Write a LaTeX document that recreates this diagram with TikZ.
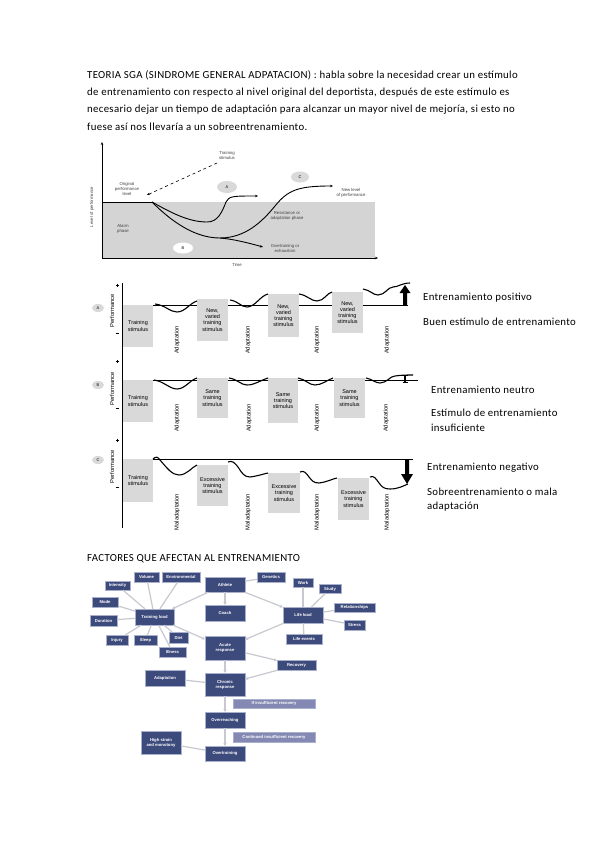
\documentclass[tikz,border=0pt]{standalone}
\usepackage{fontspec}
\setmainfont{Carlito}
\newfontfamily\bodyf[LetterSpace=3]{Carlito}
\newfontfamily\arialf{Liberation Sans}
\usetikzlibrary{arrows.meta,shapes.geometric}
\definecolor{navy}{HTML}{3D4A7C}
\definecolor{navyedge}{HTML}{A8B0CC}
\definecolor{lav}{HTML}{8389B2}
\definecolor{boxgray}{HTML}{D9D9D9}
\definecolor{areagray}{HTML}{D4D4D4}
\definecolor{linkgray}{HTML}{C8C9D0}
\tikzset{
  body/.style={anchor=west, inner sep=0, font=\bodyf\fontsize{10.8}{12}\selectfont},
  tinylab/.style={font=\arialf\fontsize{4.3}{5}\selectfont, align=center, inner sep=0, text=black!75},
  stimbox/.style={fill=boxgray, inner sep=0, font=\arialf\fontsize{5.5}{6.2}\selectfont, align=center},
  wave/.style={line width=1.1pt},
  baseln/.style={line width=0.5pt},
  vlabel/.style={rotate=90, font=\arialf\fontsize{5.8}{6.5}\selectfont, inner sep=0},
  tag/.style={ellipse, fill=boxgray, inner sep=0, minimum width=12pt, minimum height=8pt, font=\arialf\fontsize{4}{4.5}\selectfont},
  fbox/.style={fill=navy, draw=navyedge, line width=0.3pt, text=white, font=\arialf\bfseries\fontsize{4.2}{4.9}\selectfont, align=center, inner sep=0},
  lbox/.style={fbox, fill=lav},
  link/.style={draw=linkgray, line width=1.2pt},
  linka/.style={link, -{Stealth[length=3pt,width=3.5pt]}},
}
\begin{document}
\begin{tikzpicture}[x=1pt,y=-1pt]
\useasboundingbox (0,0) rectangle (600,848);
\fill[white] (0,0) rectangle (600,848);

% ---------- intro text ----------
\node[body] (t1) at (87,75) {TEORIA SGA (SINDROME GENERAL ADPATACION) : habla sobre la necesidad crear un estímulo};
\node[body] (t2) at (87,93) {de entrenamiento con respecto al nivel original del deportista, después de este estímulo es};
\node[body] (t3) at (87,110) {necesario dejar un tiempo de adaptación para alcanzar un mayor nivel de mejoría, si esto no};
\node[body] (t4) at (87,127) {fuese así nos llevaría a un sobreentrenamiento.};

% ---------- GAS chart ----------
\fill[areagray] (102,202) rectangle (375,258);
\draw[line width=0.6pt,-{Stealth[length=3pt,width=2.5pt]}] (102,258) -- (378,258);
\draw[line width=0.6pt,-{Stealth[length=3pt,width=2.5pt]}] (102,258) -- (102,142);
\draw[line width=1pt] (102,202) -- (152,202);
% curve A
\draw[line width=0.9pt,-{Stealth[length=3pt,width=2.5pt]}] (152,202) .. controls (170,212) and (188,222) .. (207,222) .. controls (218,222) and (222,212) .. (226,202) .. controls (229,196) and (233,196) .. (258,196);
% lower curve
\draw[line width=0.9pt] (152,202) .. controls (172,222) and (195,238) .. (220,238);
\draw[line width=0.9pt,-{Stealth[length=3pt,width=2.5pt]}] (220,238) .. controls (245,238) and (262,222) .. (275,206) .. controls (288,190) and (298,186) .. (333,186);
\draw[line width=0.9pt,-{Stealth[length=3pt,width=2.5pt]}] (220,238) .. controls (232,239) and (245,242) .. (263,247);
% training stimulus arrow
\draw[line width=0.6pt,dashed,-{Stealth[length=3pt,width=2.5pt]}] (217,163) -- (147,195);
\node[tinylab] (lts) at (227,155) {Training\\stimulus};
\node[tinylab] (lorig) at (127,189) {Original\\performance\\level};
\node[tinylab,rotate=90] (llev) at (92,207) {Level of performance};
\node[tinylab] (lalarm) at (123,229) {Alarm\\phase};
\node[tinylab] (lnew) at (351,193) {New level\\of performance};
\node[tinylab] (lres) at (287,216) {Resistance or\\adaptation phase};
\node[tinylab] (lover) at (285,248) {Overtraining or\\exhaustion};
\node[tinylab] (ltime) at (237,265) {Time};
\node[ellipse, fill=boxgray, inner sep=0, minimum width=20pt, minimum height=12pt, font=\arialf\fontsize{4}{4.5}\selectfont] (ea) at (227,187) {A};
\node[ellipse, fill=boxgray, inner sep=0, minimum width=18pt, minimum height=11pt, font=\arialf\fontsize{4}{4.5}\selectfont] (ec) at (300,177) {C};
\node[ellipse, fill=white, inner sep=0, minimum width=20pt, minimum height=11pt, font=\arialf\fontsize{4}{4.5}\selectfont] (eb) at (183,248) {B};

% ---------- three panels ----------
\draw[line width=0.5pt] (122,283) -- (122,528);
\foreach \yy in {285,361,440} {\draw[line width=0.4pt] (115.5,\yy) -- (118.5,\yy) (117,\yy-1.5) -- (117,\yy+1.5);}
\foreach \yy in {333,408,487} {\draw[line width=0.4pt] (115.5,\yy) -- (118.5,\yy);}
\node[vlabel] (pa) at (112,311) {Performance};
\node[vlabel] (pb) at (112,389) {Performance};
\node[vlabel] (pc) at (112,467) {Performance};
\node[tag] (ta) at (98,308) {A};
\node[tag] (tb) at (98,385) {B};
\node[tag] (tc) at (98,460) {C};

% panel A
\draw[baseln] (153,305) -- (408,305);
\node[stimbox, minimum width=30pt, minimum height=42pt] (a1) at (138,326) {Training\\stimulus};
\node[stimbox, minimum width=31pt, minimum height=42pt] (a2) at (212.5,320) {New,\\varied\\training\\stimulus};
\node[stimbox, minimum width=31pt, minimum height=43pt] (a3) at (283.5,315.5) {New,\\varied\\training\\stimulus};
\node[stimbox, minimum width=31pt, minimum height=41pt] (a4) at (347.5,312.5) {New,\\varied\\training\\stimulus};
\draw[wave] (155,304) .. controls (165,305) and (170,312) .. (177,312) .. controls (185,312) and (190,303) .. (197,301);
\draw[wave] (230,300) .. controls (238,301) and (241,307) .. (247,307) .. controls (255,307) and (260,296) .. (268,294);
\draw[wave] (299,294) .. controls (307,295) and (311,301) .. (317,301) .. controls (324,301) and (327,293) .. (332,292);
\draw[wave] (363,289) .. controls (370,290) and (373,295) .. (378,295) .. controls (385,295) and (388,287) .. (393,287) .. controls (398,287) and (402,283) .. (410,283);
\fill[black] (403,305) -- (407,305) -- (407,293) -- (410.5,293) -- (405,285) -- (399.5,293) -- (403,293) -- cycle;
\foreach \xx in {177,248,317,387} {\node[vlabel] at (\xx,340) {Adaptation};}

% panel B
\draw[baseln] (153,380) -- (418,380);
\node[stimbox, minimum width=30pt, minimum height=42pt] (b1) at (138,401) {Training\\stimulus};
\node[stimbox, minimum width=31pt, minimum height=40pt] (b2) at (212.5,398) {Same\\training\\stimulus};
\node[stimbox, minimum width=30pt, minimum height=45pt] (b3) at (283,400.5) {Same\\training\\stimulus};
\node[stimbox, minimum width=31pt, minimum height=40pt] (b4) at (349.5,398) {Same\\training\\stimulus};
\draw[wave] (154,380) .. controls (163,381) and (170,389) .. (177,389) .. controls (185,389) and (190,380) .. (197,378);
\draw[wave] (229,378) .. controls (237,379) and (241,385) .. (247,385) .. controls (255,385) and (261,380) .. (268,378);
\draw[wave] (298,378) .. controls (305,379) and (309,385) .. (315,385) .. controls (322,385) and (327,380) .. (333,378);
\draw[wave] (366,378) .. controls (372,379) and (375,383) .. (380,383) .. controls (387,383) and (390,376) .. (395,376) .. controls (402,375) and (406,375) .. (413,375);
\draw[line width=1.4pt] (405,375.5) -- (405,382.5);
\draw[line width=0.6pt] (402.5,375.5) -- (407.5,375.5) (402.5,382.5) -- (407.5,382.5);
\foreach \xx in {177,249,317,386} {\node[vlabel] at (\xx,418) {Adaptation};}

% panel C
\draw[baseln] (122,459) -- (413,459);
\node[stimbox, minimum width=30pt, minimum height=43pt] (c1) at (138,480.5) {Training\\stimulus};
\node[stimbox, minimum width=31pt, minimum height=41pt] (c2) at (212.5,485.5) {Excessive\\training\\stimulus};
\node[stimbox, minimum width=32pt, minimum height=40pt] (c3) at (284,493) {Excessive\\training\\stimulus};
\node[stimbox, minimum width=31pt, minimum height=42pt] (c4) at (353.5,499) {Excessive\\training\\stimulus};
\draw[wave] (153,459) .. controls (156,456) and (158,457) .. (160,460) .. controls (167,468) and (172,475) .. (179,475) .. controls (187,475) and (192,467) .. (197,465);
\draw[wave] (228,462) .. controls (232,460) and (235,463) .. (238,467) .. controls (242,473) and (244,477) .. (250,477) .. controls (258,476) and (263,474) .. (268,473);
\draw[wave] (300,472) .. controls (304,470) and (306,473) .. (309,477) .. controls (312,481) and (314,483) .. (319,483) .. controls (327,482) and (332,479) .. (337,478);
\draw[wave] (370,477) .. controls (374,475) and (376,479) .. (379,483) .. controls (382,487) and (384,489) .. (390,489) .. controls (398,489) and (403,486) .. (408,484);
\fill[black] (405,459) -- (409,459) -- (409,474) -- (413,474) -- (407,484) -- (401,474) -- (405,474) -- cycle;
\foreach \xx in {177,248,317,387} {\node[vlabel] at (\xx,512) {Maladaptation};}

% right labels
\node[body] (r1) at (423,298) {Entrenamiento positivo};
\node[body] (r2) at (423,322) {Buen estímulo de entrenamiento};
\node[body] (r3) at (431,390) {Entrenamiento neutro};
\node[body] (r4) at (431,413) {Estímulo de entrenamiento};
\node[body] (r5) at (431,428) {insuficiente};
\node[body] (r6) at (427,468) {Entrenamiento negativo};
\node[body] (r7) at (427,492) {Sobreentrenamiento o mala};
\node[body] (r8) at (427,507) {adaptación};

% ---------- factors ----------
\node[body] (fh) at (87,559) {FACTORES QUE AFECTAN AL ENTRENAMIENTO};

\node[fbox, minimum width=25pt, minimum height=9pt] (intensity) at (117.5,585.5) {Intensity};
\node[fbox, minimum width=25pt, minimum height=10pt] (volume) at (146.5,577) {Volume};
\node[fbox, minimum width=38pt, minimum height=10pt] (envir) at (181,577) {Environmental};
\node[fbox, minimum width=40pt, minimum height=15pt] (athlete) at (225,584.5) {Athlete};
\node[fbox, minimum width=28pt, minimum height=10pt] (genetics) at (271,577) {Genetics};
\node[fbox, minimum width=20pt, minimum height=9pt] (work) at (303,582.5) {Work};
\node[fbox, minimum width=22pt, minimum height=9pt] (study) at (330,589) {Study};
\node[fbox, minimum width=41pt, minimum height=9pt] (relat) at (354.5,607.5) {Relationships};
\node[fbox, minimum width=21pt, minimum height=10pt] (stressr) at (354.5,625) {Stress};
\node[fbox, minimum width=40pt, minimum height=16pt] (lifeload) at (303,615) {Life load};
\node[fbox, minimum width=36pt, minimum height=10pt] (lifeev) at (304,639) {Life events};
\node[fbox, minimum width=26pt, minimum height=10pt] (mode) at (105,602) {Mode};
\node[fbox, minimum width=27pt, minimum height=11pt] (duration) at (103.5,620.5) {Duration};
\node[fbox, minimum width=39pt, minimum height=16pt] (tload) at (154.5,617) {Training load};
\node[fbox, minimum width=40pt, minimum height=16pt] (coach) at (225,613) {Coach};
\node[fbox, minimum width=22pt, minimum height=10pt] (injury) at (117,640) {Injury};
\node[fbox, minimum width=23pt, minimum height=10pt] (sleep) at (145.5,640) {Sleep};
\node[fbox, minimum width=19pt, minimum height=11pt] (diet) at (178.5,637.5) {Diet};
\node[fbox, minimum width=27pt, minimum height=10pt] (illness) at (172.5,652) {Illness};
\node[fbox, minimum width=40pt, minimum height=24pt] (acute) at (225,648) {Acute\\response};
\node[fbox, minimum width=39pt, minimum height=10pt] (recovery) at (296.5,665) {Recovery};
\node[fbox, minimum width=40pt, minimum height=16pt] (adapt) at (165,678) {Adaptation};
\node[fbox, minimum width=40pt, minimum height=23pt] (chronic) at (225,684.5) {Chronic\\response};
\node[lbox, minimum width=82pt, minimum height=9pt] (ifrec) at (274,703.5) {If insufficient recovery};
\node[fbox, minimum width=40pt, minimum height=16pt] (overr) at (225,720) {Overreaching};
\node[lbox, minimum width=82pt, minimum height=10pt] (contrec) at (274,737) {Continued insufficient recovery};
\node[fbox, minimum width=40pt, minimum height=23pt] (strain) at (161,742.5) {High strain\\and monotony};
\node[fbox, minimum width=40pt, minimum height=15pt] (overt) at (225,753.5) {Overtraining};

\draw[link] (intensity) -- (tload);
\draw[link] (volume) -- (tload);
\draw[link] (envir) -- (tload);
\draw[link] (mode) -- (tload);
\draw[link] (duration) -- (tload);
\draw[link] (injury) -- (tload);
\draw[link] (sleep) -- (tload);
\draw[link] (diet) -- (tload);
\draw[link] (illness) -- (tload);
\draw[linka] (athlete) -- (tload);
\draw[linka] (athlete) -- (coach);
\draw[linka] (athlete) -- (lifeload);
\draw[link] (genetics) -- (athlete);
\draw[link] (work) -- (lifeload);
\draw[link] (study) -- (lifeload);
\draw[link] (relat) -- (lifeload);
\draw[link] (stressr) -- (lifeload);
\draw[link] (lifeev) -- (lifeload);
\draw[linka] (tload) -- (acute);
\draw[linka] (lifeload) -- (acute);
\draw[linka] (acute) -- (recovery);
\draw[linka] (acute) -- (chronic);
\draw[linka] (recovery) -- (chronic);
\draw[link] (adapt) -- (chronic);
\draw[linka] (chronic) -- (overr);
\draw[linka] (overr) -- (overt);
\draw[link] (strain) -- (overt);
\end{tikzpicture}
\end{document}
